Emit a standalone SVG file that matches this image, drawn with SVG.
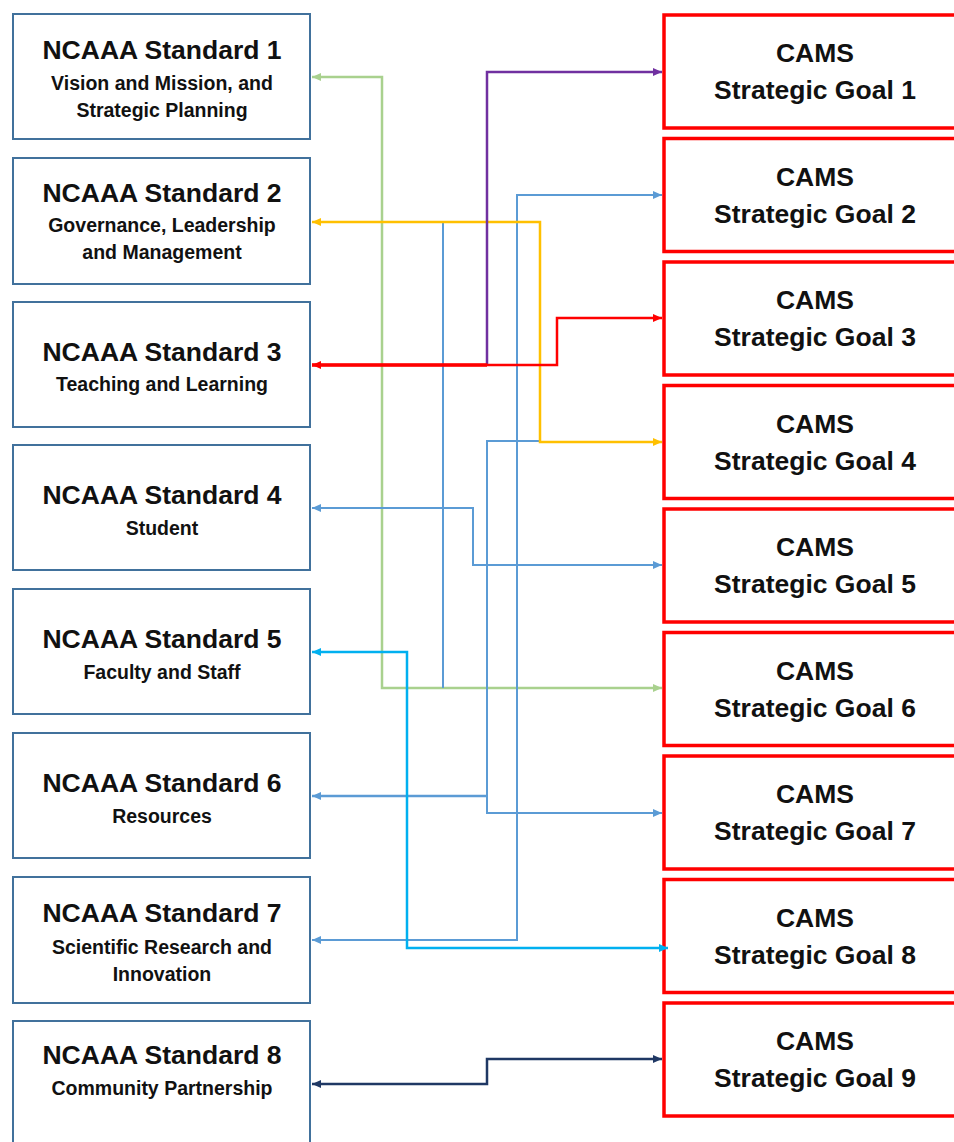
<svg xmlns="http://www.w3.org/2000/svg" width="954" height="1142" viewBox="0 0 954 1142">
<style>
.std rect{fill:#fff;stroke:#41719C;stroke-width:2}
.goal rect{fill:#fff;stroke:#FF0000;stroke-width:3.5}
text{font-family:"Liberation Sans",Arial,sans-serif;font-weight:bold;fill:#111;text-anchor:middle}
.t{font-size:26.5px}
.s{font-size:19.5px}
.c{fill:none;stroke-linejoin:miter}
</style>
<defs>
<marker id="aG" markerUnits="userSpaceOnUse" markerWidth="9" markerHeight="8" refX="9" refY="4" orient="auto-start-reverse"><path d="M0,0 L9,4 L0,8 z" fill="#A9D18E"/></marker>
<marker id="aP" markerUnits="userSpaceOnUse" markerWidth="9" markerHeight="8" refX="9" refY="4" orient="auto-start-reverse"><path d="M0,0 L9,4 L0,8 z" fill="#7030A0"/></marker>
<marker id="aR" markerUnits="userSpaceOnUse" markerWidth="9" markerHeight="8" refX="9" refY="4" orient="auto-start-reverse"><path d="M0,0 L9,4 L0,8 z" fill="#FF0000"/></marker>
<marker id="aY" markerUnits="userSpaceOnUse" markerWidth="9" markerHeight="8" refX="9" refY="4" orient="auto-start-reverse"><path d="M0,0 L9,4 L0,8 z" fill="#FFC000"/></marker>
<marker id="aB" markerUnits="userSpaceOnUse" markerWidth="9" markerHeight="8" refX="9" refY="4" orient="auto-start-reverse"><path d="M0,0 L9,4 L0,8 z" fill="#5B9BD5"/></marker>
<marker id="aC" markerUnits="userSpaceOnUse" markerWidth="9" markerHeight="8" refX="9" refY="4" orient="auto-start-reverse"><path d="M0,0 L9,4 L0,8 z" fill="#00B0F0"/></marker>
<marker id="aN" markerUnits="userSpaceOnUse" markerWidth="9" markerHeight="8" refX="9" refY="4" orient="auto-start-reverse"><path d="M0,0 L9,4 L0,8 z" fill="#1F3864"/></marker>
</defs>
<rect width="954" height="1142" fill="#fff"/>

<g id="standard1" class="std"><rect x="13" y="14" width="297" height="125"/>
<text class="t" x="162" y="59">NCAAA Standard 1</text>
<text class="s" x="162" y="90">Vision and Mission, and</text>
<text class="s" x="162" y="117">Strategic Planning</text></g>
<g id="standard2" class="std"><rect x="13" y="158" width="297" height="126"/>
<text class="t" x="162" y="202">NCAAA Standard 2</text>
<text class="s" x="162" y="232">Governance, Leadership</text>
<text class="s" x="162" y="259">and Management</text></g>
<g id="standard3" class="std"><rect x="13" y="302" width="297" height="125"/>
<text class="t" x="162" y="361">NCAAA Standard 3</text>
<text class="s" x="162" y="391">Teaching and Learning</text></g>
<g id="standard4" class="std"><rect x="13" y="445" width="297" height="125"/>
<text class="t" x="162" y="504">NCAAA Standard 4</text>
<text class="s" x="162" y="535">Student</text></g>
<g id="standard5" class="std"><rect x="13" y="589" width="297" height="125"/>
<text class="t" x="162" y="648">NCAAA Standard 5</text>
<text class="s" x="162" y="679">Faculty and Staff</text></g>
<g id="standard6" class="std"><rect x="13" y="733" width="297" height="125"/>
<text class="t" x="162" y="792">NCAAA Standard 6</text>
<text class="s" x="162" y="823">Resources</text></g>
<g id="standard7" class="std"><rect x="13" y="877" width="297" height="126"/>
<text class="t" x="162" y="922">NCAAA Standard 7</text>
<text class="s" x="162" y="954">Scientific Research and</text>
<text class="s" x="162" y="981">Innovation</text></g>
<g id="standard8" class="std"><rect x="13" y="1021" width="297" height="140"/>
<text class="t" x="162" y="1064">NCAAA Standard 8</text>
<text class="s" x="162" y="1095">Community Partnership</text></g>

<g id="goal1" class="goal"><rect x="664" y="15" width="300" height="113"/>
<text class="t" x="815" y="62">CAMS</text><text class="t" x="815" y="99">Strategic Goal 1</text></g>
<g id="goal2" class="goal"><rect x="664" y="138.5" width="300" height="113"/>
<text class="t" x="815" y="185.5">CAMS</text><text class="t" x="815" y="222.5">Strategic Goal 2</text></g>
<g id="goal3" class="goal"><rect x="664" y="262" width="300" height="113"/>
<text class="t" x="815" y="309">CAMS</text><text class="t" x="815" y="346">Strategic Goal 3</text></g>
<g id="goal4" class="goal"><rect x="664" y="385.5" width="300" height="113"/>
<text class="t" x="815" y="432.5">CAMS</text><text class="t" x="815" y="469.5">Strategic Goal 4</text></g>
<g id="goal5" class="goal"><rect x="664" y="509" width="300" height="113"/>
<text class="t" x="815" y="556">CAMS</text><text class="t" x="815" y="593">Strategic Goal 5</text></g>
<g id="goal6" class="goal"><rect x="664" y="632.5" width="300" height="113"/>
<text class="t" x="815" y="679.5">CAMS</text><text class="t" x="815" y="716.5">Strategic Goal 6</text></g>
<g id="goal7" class="goal"><rect x="664" y="756" width="300" height="113"/>
<text class="t" x="815" y="803">CAMS</text><text class="t" x="815" y="840">Strategic Goal 7</text></g>
<g id="goal8" class="goal"><rect x="664" y="879.5" width="300" height="113"/>
<text class="t" x="815" y="926.5">CAMS</text><text class="t" x="815" y="963.5">Strategic Goal 8</text></g>
<g id="goal9" class="goal"><rect x="664" y="1003" width="300" height="113"/>
<text class="t" x="815" y="1050">CAMS</text><text class="t" x="815" y="1087">Strategic Goal 9</text></g>

<g id="connectors" class="c">
<path d="M312,77 H382 V688 H662" stroke="#A9D18E" stroke-width="2.5" marker-start="url(#aG)" marker-end="url(#aG)"/>
<path d="M443,222 V688" stroke="#5B9BD5" stroke-width="2"/>
<path d="M662,195 H517 V940 H312" stroke="#5B9BD5" stroke-width="2" marker-start="url(#aB)" marker-end="url(#aB)"/>
<path d="M540,441 H487 V813 H662" stroke="#5B9BD5" stroke-width="2" marker-end="url(#aB)"/>
<path d="M487,796 H312" stroke="#5B9BD5" stroke-width="2.5" marker-end="url(#aB)"/>
<path d="M312,508 H473 V565 H662" stroke="#5B9BD5" stroke-width="2" marker-start="url(#aB)" marker-end="url(#aB)"/>
<path d="M312,222 H540 V442 H662" stroke="#FFC000" stroke-width="2.5" marker-start="url(#aY)" marker-end="url(#aY)"/>
<path d="M487,365 V72 H662" stroke="#7030A0" stroke-width="2.5" marker-end="url(#aP)"/>
<path d="M312,365 H557 V318 H662" stroke="#FF0000" stroke-width="2.5" marker-start="url(#aR)" marker-end="url(#aR)"/>
<path d="M312,365 H487" stroke="#FF0000" stroke-width="3.5"/>
<path d="M312,652 H407 V948 H668" stroke="#00B0F0" stroke-width="2.5" marker-start="url(#aC)" marker-end="url(#aC)"/>
<path d="M312,1084 H487 V1059 H662" stroke="#1F3864" stroke-width="2.5" marker-start="url(#aN)" marker-end="url(#aN)"/>
</g>
</svg>
